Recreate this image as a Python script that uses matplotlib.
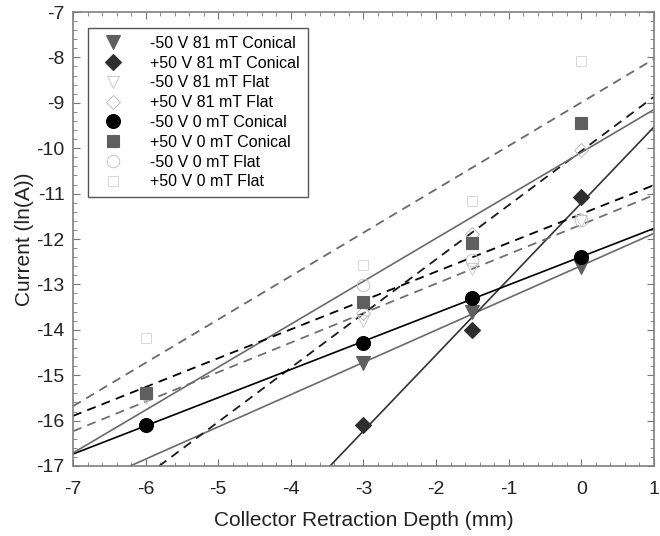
import matplotlib
matplotlib.use("Agg")
import matplotlib.pyplot as plt
from matplotlib.ticker import MultipleLocator
import numpy as np

plt.rcParams['font.family'] = ['Liberation Sans', 'DejaVu Sans']
plt.rcParams['axes.unicode_minus'] = False

# depth (mm) and current ln(A)
x_all = [-6, -3, -1.5, 0]
x_three = [-3, -1.5, 0]

m50_81_con = [-14.74, -13.61, -12.61]
p50_81_con = [-16.09, -14.0, -11.07]
m50_81_flat = [-15.5, -13.8, -12.66, -11.6]
p50_81_flat = [-13.62, -11.9, -10.04]
m50_0_con = [-16.1, -14.3, -13.29, -12.39]
p50_0_con = [-15.4, -13.38, -12.09, -9.44]
m50_0_flat = [-15.42, -13.01, -12.46, -11.58]
p50_0_flat = [-14.19, -12.57, -11.16, -8.09]

labels = ["-50 V 81 mT Conical", "+50 V 81 mT Conical", "-50 V 81 mT Flat",
          "+50 V 81 mT Flat", "-50 V 0 mT Conical", "+50 V 0 mT Conical",
          "-50 V 0 mT Flat", "+50 V 0 mT Flat"]

fig = plt.figure(figsize=(6.6, 5.36), dpi=100)
ax = fig.add_axes([0.1106, 0.1306, 0.88, 0.847])

# (x, y, marker, face, edge, linestyle, linecolor)
series = [
    (x_three, m50_81_con, "v", "#5f5f5f", "#5f5f5f", "-", "#6a6a6a"),
    (x_three, p50_81_con, "D", "#2e2e2e", "#2e2e2e", "-", "#333333"),
    (x_all, m50_81_flat, "v", "white", "#cccccc", "--", "#707070"),
    (x_three, p50_81_flat, "D", "white", "#bdbdbd", "--", "#1a1a1a"),
    (x_all, m50_0_con, "o", "black", "black", "-", "black"),
    (x_all, p50_0_con, "s", "#5f5f5f", "#5f5f5f", "-", "#6a6a6a"),
    (x_all, m50_0_flat, "o", "white", "#c4c4c4", "--", "#000000"),
    (x_all, p50_0_flat, "s", "white", "#d8d8d8", "--", "#6a6a6a"),
]

xx = np.array([-7.0, 1.0])
for xs, ys, mk, fc, ec, ls, lc in series:
    k, b = np.polyfit(xs, ys, 1)
    if ls == "--":
        ax.plot(xx, k * xx + b, color=lc, lw=1.3, dashes=(5, 3.5), zorder=2)
    else:
        ax.plot(xx, k * xx + b, color=lc, lw=1.2, zorder=2)

handles = []
for (xs, ys, mk, fc, ec, ls, lc), lab in zip(series, labels):
    filled = fc != "white"
    size = {"v": 10, "D": 8.5, "o": 10, "s": 8}[mk]
    if not filled:
        size -= 1
    h, = ax.plot(xs, ys, linestyle="none", marker=mk, ms=size,
                 mfc=fc if filled else "none", mec=ec, mew=0.8 if filled else 0.7,
                 label=lab, zorder=4 if filled else 3)
    handles.append(h)

ax.set_xlim(-7, 1)
ax.set_ylim(-17, -7)
ax.xaxis.set_major_locator(MultipleLocator(1))
ax.xaxis.set_minor_locator(MultipleLocator(0.2))
ax.yaxis.set_major_locator(MultipleLocator(1))
ax.yaxis.set_minor_locator(MultipleLocator(0.2))
ax.tick_params(which="both", direction="in", top=True, right=True,
               color="#777777", labelsize=14, labelcolor="#222222")
ax.tick_params(which="major", length=5)
ax.tick_params(axis="x", which="major", pad=11)
ax.tick_params(axis="y", which="major", pad=6)
ax.tick_params(which="minor", length=3)
for sp in ax.spines.values():
    sp.set_color("#808080")
    sp.set_linewidth(1.2)

ax.set_xlabel("Collector Retraction Depth (mm)", fontsize=15, color="#222222", labelpad=9)
ax.set_ylabel("Current (ln(A))", fontsize=15, color="#222222", labelpad=2)

leg = ax.legend(handles=handles, loc="upper left", bbox_to_anchor=(0.0256, 0.965),
                borderaxespad=0, fontsize=11.5, fancybox=False, framealpha=1,
                edgecolor="#555555", labelspacing=0.3, handletextpad=1.2,
                borderpad=0.5, handlelength=2.2)
leg.get_frame().set_linewidth(1.0)

fig.savefig("out.png", dpi=100)
